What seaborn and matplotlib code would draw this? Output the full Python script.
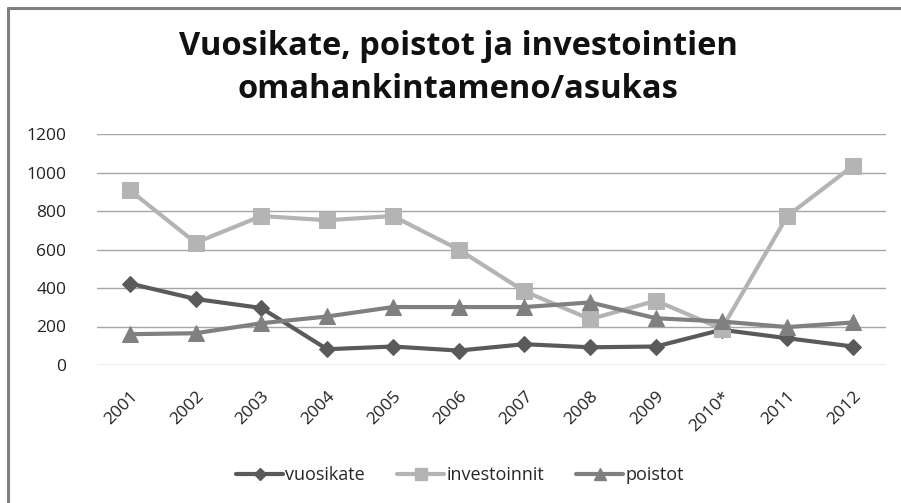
import pandas as pd
import matplotlib
matplotlib.use("Agg")
import matplotlib.pyplot as plt
import seaborn as sns
from matplotlib.lines import Line2D

# values (euro / asukas)
vuodet = ["2001", "2002", "2003", "2004", "2005", "2006",
          "2007", "2008", "2009", "2010*", "2011", "2012"]
vuosikate = [423, 343, 296, 82, 96, 75, 108, 92, 96, 183, 139, 96]
investoinnit = [908, 635, 774, 752, 774, 600, 383, 238, 334, 188, 774, 1035]
poistot = [160, 165, 217, 252, 301, 301, 301, 325, 243, 226, 197, 221]

sarjat = ["vuosikate", "investoinnit", "poistot"]
varit = {"vuosikate": "#5a5a5a", "investoinnit": "#b4b4b4", "poistot": "#808080"}
merkit = {"vuosikate": "D", "investoinnit": "s", "poistot": "^"}
koot = {"vuosikate": 8, "investoinnit": 11, "poistot": 11}

df = pd.DataFrame({"vuosi": vuodet, "vuosikate": vuosikate,
                   "investoinnit": investoinnit, "poistot": poistot})
long_df = df.melt(id_vars="vuosi", var_name="sarja", value_name="arvo")

sns.set_theme(style="white")
plt.rcParams["font.family"] = ["Open Sans", "DejaVu Sans"]

fig = plt.figure(figsize=(9.01, 5.03), dpi=100)
ax = fig.add_axes([97 / 901, 1 - 365 / 503, (886 - 97) / 901, (365 - 134) / 503])

for s in sarjat:
    sns.lineplot(data=long_df[long_df["sarja"] == s], x="vuosi", y="arvo",
                 color=varit[s], marker=merkit[s], markersize=koot[s],
                 markeredgecolor=varit[s], linewidth=3, sort=False,
                 label=s, ax=ax, legend=False)

ax.set_ylim(0, 1200)
ax.set_xlim(-0.5, len(vuodet) - 0.5)
ax.set_yticks(range(0, 1201, 200))
ax.yaxis.grid(True, color="#a6a6a6", linewidth=1)
ax.set_axisbelow(True)
for sp in ax.spines.values():
    sp.set_visible(False)
ax.set_xlabel("")
ax.set_ylabel("")
ax.tick_params(axis="y", length=0, pad=22, labelsize=12.5, colors="#222222")
ax.tick_params(axis="x", length=0, pad=17, labelsize=12.5, colors="#222222")
plt.setp(ax.get_xticklabels(), rotation=45, ha="right", rotation_mode="anchor")

fig.text(458 / 901, 1 - 68 / 503, "Vuosikate, poistot ja investointien\nomahankintameno/asukas",
         ha="center", va="center", fontsize=23.5, fontweight="bold",
         linespacing=1.4, color="#111111")

kahvat = [Line2D([0], [0], color=varit[s], marker=merkit[s], linewidth=3,
                 markersize=koot[s] * 0.75, markeredgecolor=varit[s]) for s in sarjat]
fig.legend(kahvat, sarjat, loc="center", bbox_to_anchor=(460 / 901, 1 - 475 / 503),
           ncol=3, frameon=False, fontsize=13, handlelength=2.6, handletextpad=0.1,
           columnspacing=1.8)

# outer chart border (left and top only visible)
fig.add_artist(Line2D([8 / 901, 8 / 901], [0, 1 - 8 / 503], color="#808080",
                      linewidth=2.2, transform=fig.transFigure))
fig.add_artist(Line2D([8 / 901, 1], [1 - 8 / 503, 1 - 8 / 503], color="#808080",
                      linewidth=2.2, transform=fig.transFigure))

fig.savefig("out.png", dpi=100)
